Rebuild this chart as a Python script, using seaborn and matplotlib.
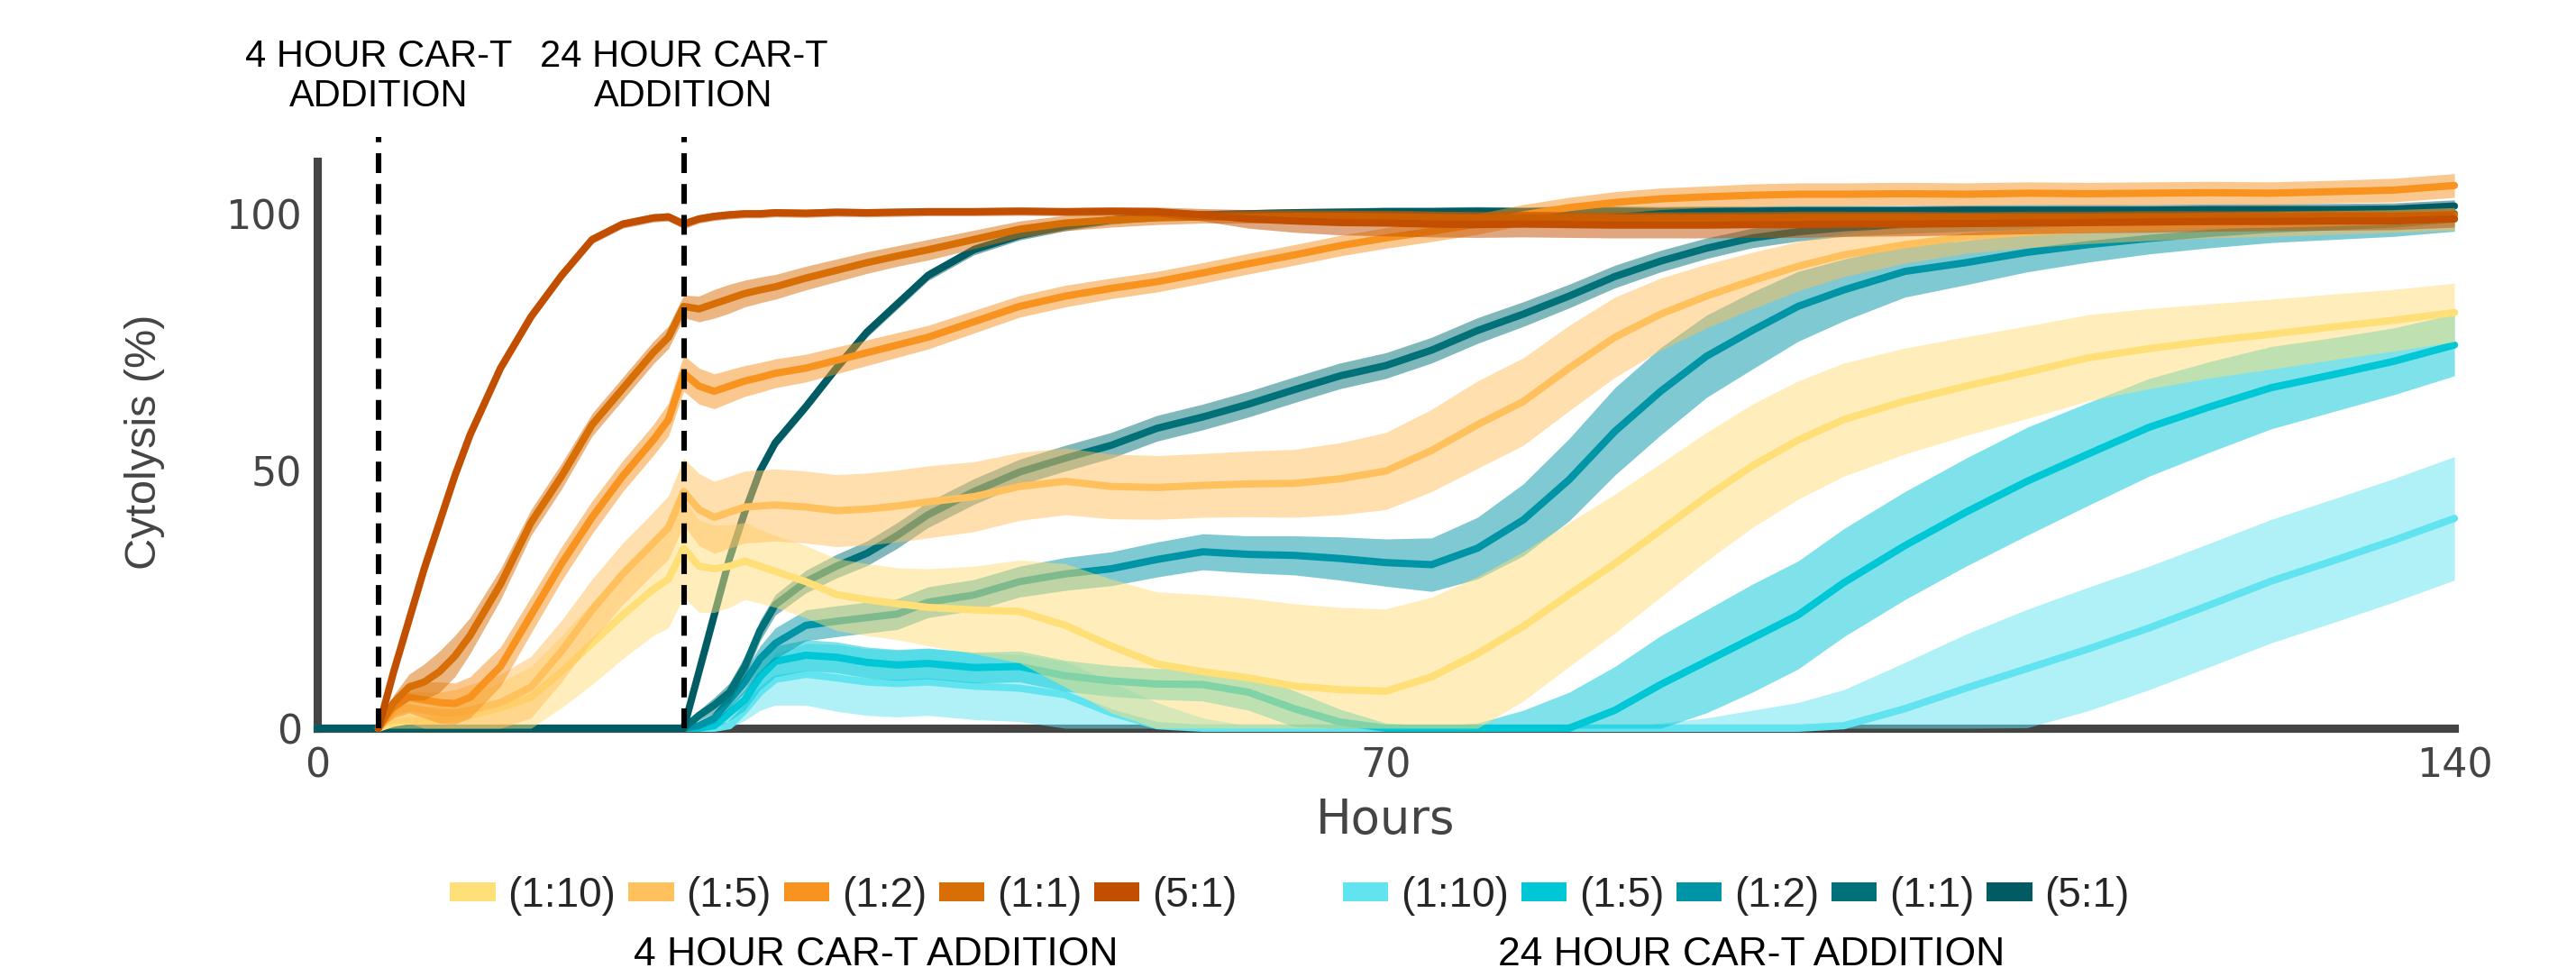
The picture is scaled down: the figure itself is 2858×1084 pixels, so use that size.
import numpy as np
import pandas as pd
import matplotlib
matplotlib.use("Agg")
import matplotlib.pyplot as plt
from matplotlib.patches import Patch
from matplotlib import font_manager as fm
import seaborn as sns

# ---------------- data ----------------
HOURS = [0, 4, 5, 6, 7, 8, 9, 10, 12, 14, 16, 18, 20, 22, 23, 24, 25, 26, 27, 28, 29, 30,
         32, 34, 36, 38, 40, 43, 46, 49, 52, 55, 58, 61, 64, 67, 70, 73, 76, 79, 82, 85,
         88, 91, 94, 97, 100, 104, 108, 112, 116, 120, 124, 128, 132, 136, 140]

RATIOS = ["(1:10)", "(1:5)", "(1:2)", "(1:1)", "(5:1)"]
GROUPS = ["4 HOUR CAR-T ADDITION", "24 HOUR CAR-T ADDITION"]
ANNOTATIONS = ["4 HOUR CAR-T\nADDITION", "24 HOUR CAR-T\nADDITION"]
ADDITION_TIMES = [4, 24]
X_TICKS = [0, 70, 140]
Y_TICKS = [0, 50, 100]

COLORS_4H = ["#FFDF78", "#FFC05E", "#F7931E", "#D86F06", "#C24E00"]
COLORS_24H = ["#62E3F0", "#00C7D6", "#0095A6", "#007179", "#005B62"]

# 4 hour CAR-T addition: mean and half-width of the band
H4_1_10 = [None, 0, 1, 1.5, 1.5, 1.5, 2, 2.5, 4, 6, 11, 16.5, 22, 27, 29, 35, 31.5, 31, 31.5, 32.5, 31.5, 30.5,
           28.5, 26, 25, 24.2, 23.5, 23, 22.7, 20, 16, 12.5, 11, 9.8, 8.2, 7.5, 7.2, 10, 14.5, 19.8, 26, 32,
           38.5, 45, 51, 56, 60, 63.6, 66.5, 69.2, 72, 73.8, 75.3, 76.6, 78, 79.3, 80.8]
H4_1_10_SD = [None, 0, 1, 2, 2.5, 3, 3.5, 4, 5, 6, 7, 8, 8.5, 9, 9.5, 9.5, 9, 8.5, 8, 7.5, 7.2, 7,
              7, 7, 7, 7, 7.5, 8.5, 10, 12, 13, 14, 15, 15.5, 16, 16, 16, 15.5, 15, 14.5, 14, 13.5,
              13, 12.5, 12, 11.5, 11, 10.3, 9.6, 9, 8.4, 7.8, 7.2, 6.8, 6.4, 6, 5.7]

H4_1_5 = [None, 0, 3, 4, 3.5, 3, 3, 3.5, 5, 8, 15, 23, 30, 36, 39, 46, 42.5, 41, 42, 43, 43.2, 43.4,
          43, 42.3, 42.6, 43.2, 44, 45, 47, 48, 47, 46.8, 47.2, 47.5, 47.6, 48.5, 50, 54, 59, 63.5, 70, 76,
          80.5, 84, 87, 89.8, 92, 94, 95.5, 96.4, 97, 97.4, 97.8, 98, 98.3, 98.6, 99]
H4_1_5_SD = [None, 0, 2, 3, 3.5, 4, 4.5, 5, 5.5, 6, 6, 6, 6, 6, 6.2, 6.5, 7, 7, 7, 7, 7, 7,
             7, 7, 7, 7, 7, 6.8, 6.6, 6.5, 6.3, 6.2, 6.2, 6.4, 6.6, 7, 7.5, 8, 8.5, 8.5, 8.3, 7.8,
             7, 6.2, 5.5, 4.8, 4.2, 3.6, 3.2, 3, 2.8, 2.6, 2.5, 2.4, 2.3, 2.2, 2.2]

H4_1_2 = [None, 0, 4, 6, 5.5, 5, 4.8, 6, 12, 22, 32, 41, 49, 56, 60, 69, 66.5, 65.5, 66.5, 67.5, 68.2, 69,
          70, 71.5, 73, 74.5, 76, 79, 82, 84, 85.5, 86.8, 88.5, 90.3, 92, 93.8, 95.3, 96.6, 98, 99.8, 101.2, 102.2,
          102.9, 103.3, 103.6, 103.8, 103.8, 103.9, 103.8, 104, 103.9, 104, 104.1, 104, 104.3, 104.6, 105.5]
H4_1_2_SD = [None, 0, 2, 3, 3.5, 4, 4, 4, 3.8, 3.5, 3.3, 3.2, 3, 3, 3.2, 3.5, 3.5, 3.4, 3.2, 3, 2.9, 2.8,
             2.7, 2.6, 2.5, 2.4, 2.3, 2.2, 2.1, 2.1, 2.0, 2.0, 2.0, 2.0, 2.0, 2.0, 2.0, 2.0, 2.0, 2.0, 2.0, 2.1,
             2.1, 2.1, 2.2, 2.2, 2.2, 2.2, 2.2, 2.2, 2.2, 2.2, 2.2, 2.2, 2.2, 2.3, 2.3]

H4_1_1 = [None, 0, 5, 8, 9, 11, 14, 18, 28, 40, 49, 59, 66, 73, 76, 82, 81.5, 82.5, 83.5, 84.5, 85.2, 85.8,
          87.5, 89, 90.5, 91.8, 93, 95, 97, 98.2, 98.8, 99.2, 99.4, 99.4, 99.5, 99.5, 99.4, 99.3, 99.2, 99.2, 99.1, 99.1,
          99.2, 99.2, 99.2, 99.3, 99.3, 99.3, 99.2, 99.3, 99.3, 99.4, 99.4, 99.4, 99.5, 99.5, 99.8]
H4_1_1_SD = [None, 0, 1.5, 2.5, 3.5, 4, 4, 3.5, 3, 2.5, 2.5, 2.2, 2.2, 2.2, 2.2, 2.2, 2.5, 2.8, 2.8, 2.6, 2.5, 2.4,
             2.3, 2.2, 2.1, 2.0, 2.0, 1.8, 1.6, 1.5, 1.4, 1.3, 1.2, 1.2, 1.2, 1.2, 1.2, 1.2, 1.2, 1.2, 1.2, 1.2,
             1.2, 1.2, 1.2, 1.2, 1.2, 1.2, 1.2, 1.2, 1.2, 1.2, 1.2, 1.2, 1.2, 1.2, 1.2]

H4_5_1 = [None, 0, 11, 21, 31, 40, 49, 57, 70, 80, 88, 95, 98, 99.2, 99.4, 98, 99, 99.5, 99.8, 100, 100, 100.2,
          100.1, 100.3, 100.2, 100.3, 100.4, 100.4, 100.5, 100.4, 100.5, 100.4, 99.8, 99.0, 98.6, 98.3, 98.2, 98.0, 97.9, 98.0, 97.9, 97.8,
          97.8, 97.8, 97.9, 97.9, 98.0, 98.0, 98.1, 98.2, 98.3, 98.4, 98.5, 98.5, 98.6, 98.6, 99.0]
H4_5_1_SD = [None, 0, 0.6, 0.7, 0.8, 0.8, 0.8, 0.8, 0.8, 0.8, 0.8, 0.8, 0.8, 0.8, 0.8, 0.9, 0.8, 0.8, 0.8, 0.8, 0.8, 0.8,
             0.8, 0.8, 0.8, 0.8, 0.8, 0.8, 0.8, 0.8, 0.8, 0.9, 1.2, 1.8, 2.2, 2.4, 2.5, 2.5, 2.5, 2.5, 2.5, 2.5,
             2.5, 2.5, 2.5, 2.5, 2.4, 2.3, 2.2, 2.1, 2.0, 2.0, 1.9, 1.8, 1.8, 1.7, 1.6]

# 24 hour CAR-T addition
H24_1_10 = [0, 0, 0, 0, 0, 0, 0, 0, 0, 0, 0, 0, 0, 0, 0, 0, 0, 0, 0.5, 3.5, 7, 9.5,
            10.5, 9.8, 9, 8.7, 9, 8.2, 7.8, 6.5, 3, 0.5, 0, 0, 0, 0, 0, 0, 0, 0, 0, 0,
            0, 0, 0, 0, 0.5, 3.8, 7.8, 11.6, 15.4, 19.5, 24, 28.6, 32.5, 36.5, 40.8]
H24_1_10_SD = [0, 0, 0, 0, 0, 0, 0, 0, 0, 0, 0, 0, 0, 0, 0, 0, 0, 0, 0.5, 2, 3.5, 5,
               6, 6.5, 6.5, 6.5, 6.5, 6.5, 6.5, 6.5, 6, 4.5, 2, 0.5, 0, 0, 0, 0, 0, 0, 0, 0,
               1, 2, 3.5, 5, 7, 9, 10.5, 11.5, 12, 12, 12, 12, 12, 12, 12]

H24_1_5 = [0, 0, 0, 0, 0, 0, 0, 0, 0, 0, 0, 0, 0, 0, 0, 0, 0, 0.5, 3, 5.5, 10, 13,
           14.2, 13.8, 12.8, 12.3, 12.6, 11.8, 12, 10.2, 9.2, 8.6, 8.5, 7, 3.8, 1.2, 0, 0, 0, 0, 0, 3.5,
           8.5, 13, 17.5, 22, 28.3, 35.5, 42, 48, 53.3, 58.5, 62.5, 66.2, 68.7, 71.3, 74.5]
H24_1_5_SD = [0, 0, 0, 0, 0, 0, 0, 0, 0, 0, 0, 0, 0, 0, 0, 0, 0, 0.5, 1.5, 2, 2.5, 3,
              3, 3, 3, 3, 3, 3, 3, 3, 3, 3, 3.2, 3.5, 3.5, 2.5, 1, 0.5, 1, 3.5, 7, 8.5,
              9.5, 10, 10.5, 10.5, 10.5, 10.5, 10.5, 10.5, 10, 9.5, 8.8, 8, 7.2, 6.5, 6]

H24_1_2 = [0, 0, 0, 0, 0, 0, 0, 0, 0, 0, 0, 0, 0, 0, 0, 0, 0.5, 2, 5.5, 9, 13.5, 16.5,
           20, 20.8, 21.5, 22.2, 24.5, 25.9, 28.5, 30, 31, 32.8, 34.3, 33.8, 33.6, 33, 32.2, 31.8, 35, 40.5, 48.3, 57.7,
           65.5, 72.3, 77.3, 82, 85.2, 88.8, 90.5, 92.5, 94, 95.2, 96.2, 97, 97.5, 98, 99]
H24_1_2_SD = [0, 0, 0, 0, 0, 0, 0, 0, 0, 0, 0, 0, 0, 0, 0, 0, 0.5, 1, 1.5, 2, 2.5, 3,
              3, 3, 3, 3, 3, 3, 3, 3.2, 3.3, 3.4, 3.5, 3.6, 3.8, 4.2, 4.6, 5.2, 6, 7, 8, 8.5,
              8.5, 8, 7.5, 6.8, 6, 5, 4.3, 3.8, 3.4, 3, 2.8, 2.6, 2.5, 2.4, 2.4]

H24_1_1 = [0, 0, 0, 0, 0, 0, 0, 0, 0, 0, 0, 0, 0, 0, 0, 0, 2.5, 4.5, 7, 12, 19, 24,
           28.5, 31.5, 34, 37.5, 41.5, 46, 49.8, 52.5, 55, 58.3, 60.5, 63, 65.8, 68.5, 70.5, 73.5, 77.3, 80.5, 84, 87.8,
           90.8, 93.3, 95.3, 96.5, 97.3, 97.9, 98.3, 98.6, 98.8, 99, 99.1, 99.2, 99.3, 99.4, 100]
H24_1_1_SD = [0, 0, 0, 0, 0, 0, 0, 0, 0, 0, 0, 0, 0, 0, 0, 0, 1, 1.5, 1.8, 2, 2, 2,
              2.2, 2.3, 2.4, 2.5, 2.5, 2.5, 2.5, 2.5, 2.5, 2.5, 2.5, 2.5, 2.5, 2.5, 2.5, 2.5, 2.5, 2.4, 2.3, 2.2,
              2.1, 2, 1.9, 1.8, 1.7, 1.7, 1.7, 1.6, 1.6, 1.6, 1.6, 1.5, 1.5, 1.5, 1.5]

H24_5_1 = [0, 0, 0, 0, 0, 0, 0, 0, 0, 0, 0, 0, 0, 0, 0, 0, 11, 22, 33, 42, 50, 55.5,
           62.5, 70, 77, 82.5, 88, 93, 95.8, 97.6, 98.8, 99.5, 99.8, 100, 100.2, 100.3, 100.4, 100.4, 100.5, 100.4, 100.5, 100.5,
           100.4, 100.5, 100.5, 100.6, 100.6, 100.6, 100.7, 100.7, 100.7, 100.7, 100.8, 100.8, 100.8, 100.9, 101.5]
H24_5_1_SD = [0, 0, 0, 0, 0, 0, 0, 0, 0, 0, 0, 0, 0, 0, 0, 0, 0.6, 0.8, 1, 1, 1, 1,
              1, 1, 1, 1, 1, 1, 0.9, 0.9, 0.8, 0.8, 0.8, 0.8, 0.8, 0.8, 0.9, 0.9, 0.9, 0.9, 1, 1,
              1, 1, 1, 1, 1, 1, 1, 1.1, 1.1, 1.1, 1.1, 1.1, 1.2, 1.2, 1.2]

SERIES_4H = [(H4_1_10, H4_1_10_SD), (H4_1_5, H4_1_5_SD), (H4_1_2, H4_1_2_SD),
             (H4_1_1, H4_1_1_SD), (H4_5_1, H4_5_1_SD)]
SERIES_24H = [(H24_1_10, H24_1_10_SD), (H24_1_5, H24_1_5_SD), (H24_1_2, H24_1_2_SD),
              (H24_1_1, H24_1_1_SD), (H24_5_1, H24_5_1_SD)]

# ---------------- long table (lower / mean / upper per time point) ----------------
rows = []
order, palette = [], {}
for group, series, colors in [(GROUPS[1], SERIES_24H, COLORS_24H), (GROUPS[0], SERIES_4H, COLORS_4H)]:
    for ratio, (mean, sd), col in zip(RATIOS, series, colors):
        key = f"{group} {ratio}"
        if len(mean) != len(HOURS) or len(sd) != len(HOURS):
            raise ValueError(f"length mismatch {key}: {len(mean)} {len(sd)}")
        order.append(key)
        palette[key] = col
        for t, m, s in zip(HOURS, mean, sd):
            if m is None:
                continue
            for v in (max(m - s, 0.0), m, m + s):
                rows.append({"Hours": t, "Cytolysis": v, "Series": key})
df = pd.DataFrame(rows)

# ---------------- style ----------------
sns.set_style("white")
names = {f.name for f in fm.fontManager.ttflist}
NARROW = "Liberation Sans Narrow" if "Liberation Sans Narrow" in names else "Liberation Sans"
plt.rcParams["font.family"] = ["DejaVu Sans"]
GREY = "#444444"

fig = plt.figure(figsize=(14.29, 5.42), dpi=200)
ax = fig.add_axes([0.1232, 0.2546, 0.8296, 0.5803])

sns.lineplot(data=df, x="Hours", y="Cytolysis", hue="Series", hue_order=order,
             palette=palette, estimator="median", errorbar=("pi", 100),
             err_kws={"alpha": 0.5, "linewidth": 0}, linewidth=2.9,
             legend=False, ax=ax)

for i, (ln, pc) in enumerate(zip(ax.lines, ax.collections)):
    pc.set_zorder(1 + 2 * i)
    ln.set_zorder(2 + 2 * i)
    ln.set_clip_on(False)
    ln.set_solid_joinstyle("round")
    pc.set_clip_on(False)

for t in ADDITION_TIMES:
    ax.axvline(t, ymin=0, ymax=1.043, color="black", lw=2.2,
               ls=(0, (3.6, 2.0)), clip_on=False, zorder=50)

ax.set_xlim(0, 140)
ax.set_ylim(0, 110.2)
ax.set_xticks(X_TICKS)
ax.set_yticks(Y_TICKS)
ax.tick_params(axis="both", direction="inout", length=10.8, width=3,
               color=GREY, labelcolor=GREY, labelsize=16)
ax.tick_params(axis="x", pad=2)
ax.tick_params(axis="y", pad=0.8)
for side in ["top", "right"]:
    ax.spines[side].set_visible(False)
for side in ["left", "bottom"]:
    ax.spines[side].set_linewidth(3.3)
    ax.spines[side].set_color(GREY)
    ax.spines[side].set_zorder(0.5)

ax.set_xlabel("Hours", fontsize=19, color=GREY)
ax.xaxis.set_label_coords(0.5, -0.12)
ax.set_ylabel("Cytolysis (%)", fontsize=20 if NARROW.endswith("Narrow") else 17.5,
              color=GREY, family=NARROW)
ax.yaxis.set_label_coords(-0.0713, 0.505)

for t, txt in zip(ADDITION_TIMES, ANNOTATIONS):
    ax.annotate(txt, xy=(t, 0.9216), xycoords=("data", "figure fraction"),
                ha="center", va="center", fontsize=15, family="Liberation Sans",
                linespacing=1.15, color="black", annotation_clip=False)

# ---------------- legends ----------------
legend_pos = [(0.3275, 0.083), (0.674, 0.083)]
title_pos = [(0.340, 0.023), (0.680, 0.023)]
for colors, group, lp, tp in zip([COLORS_4H, COLORS_24H], GROUPS, legend_pos, title_pos):
    handles = [Patch(facecolor=c, edgecolor="none", label=r) for r, c in zip(RATIOS, colors)]
    fig.legend(handles=handles, loc="center", bbox_to_anchor=lp, ncol=5, frameon=False,
               prop={"family": "Liberation Sans", "size": 16.5},
               handlelength=1.1, handleheight=0.34, handletextpad=0.3,
               columnspacing=0.3, borderpad=0, borderaxespad=0)
    fig.text(tp[0], tp[1], group, ha="center", va="center", fontsize=16,
             family="Liberation Sans", color="black")

fig.savefig("out.png", dpi=200)
